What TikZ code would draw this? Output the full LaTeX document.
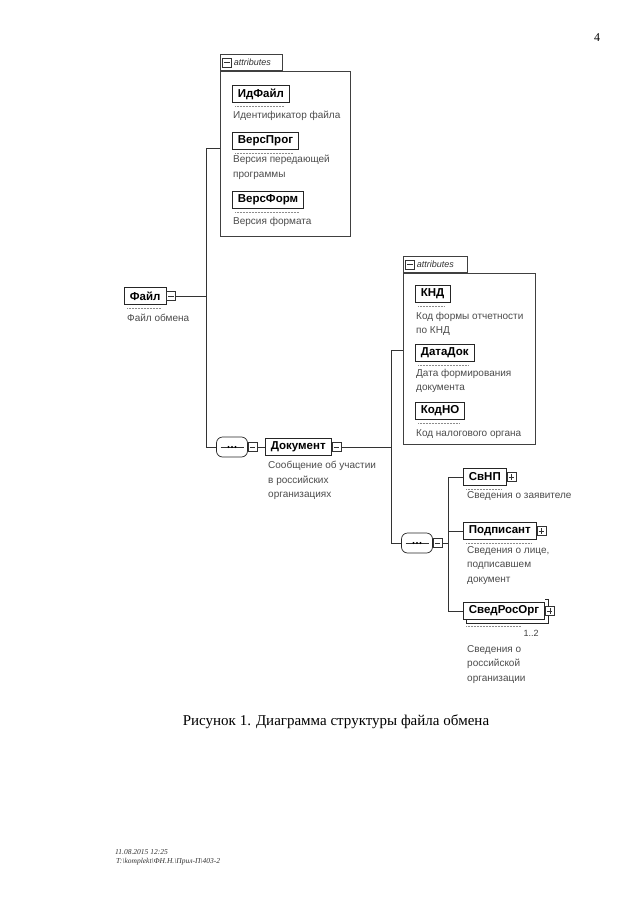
\documentclass[tikz,border=0pt]{standalone}
\usepackage{fontspec}
\setmainfont{Liberation Serif}
\setsansfont{Liberation Sans}
\usetikzlibrary{positioning}

\begin{document}
\begin{tikzpicture}[
    x=1pt, y=-1pt,
    every node/.style={font=\sffamily},
    link/.style={draw=black!80, line width=0.6pt},
    elem/.style={draw=black!85, fill=white, line width=0.7pt, anchor=west,
                 minimum height=17, inner xsep=5.5pt, inner ysep=0pt,
                 font=\sffamily\bfseries\fontsize{11.5}{12}\selectfont},
    desc/.style={anchor=north west, align=left, inner sep=0pt, text=black!70,
                 font=\sffamily\fontsize{10}{14.5}\selectfont},
    typeline/.style={draw=black!45, densely dotted, line width=0.5pt},
    attrbox/.style={draw=black!75, line width=0.6pt, anchor=north west, inner sep=0pt},
    attrtab/.style={draw=black!75, line width=0.6pt, anchor=south west, inner sep=0pt},
    tabtext/.style={inner sep=0pt, text=black!80,
                    font=\sffamily\itshape\fontsize{9}{10}\selectfont},
    minusbox/.style={draw=black!80, fill=white, line width=0.5pt, minimum size=9pt,
                     inner sep=0pt,
                     path picture={\draw[black!80,line width=0.5pt]
                       ([xshift=1.8pt]path picture bounding box.west) --
                       ([xshift=-1.8pt]path picture bounding box.east);}},
    plusbox/.style={minusbox,
                    path picture={\draw[black!80,line width=0.5pt]
                       ([xshift=1.8pt]path picture bounding box.west) --
                       ([xshift=-1.8pt]path picture bounding box.east)
                       ([yshift=-1.8pt]path picture bounding box.north) --
                       ([yshift=1.8pt]path picture bounding box.south);}},
    seqbox/.style={draw=black!85, fill=white, line width=0.7pt, rounded corners=6pt,
                   minimum width=31pt, minimum height=20pt, inner sep=0pt,
                   path picture={\draw[black!80,line width=0.6pt]
                       ([xshift=4pt]path picture bounding box.west) --
                       ([xshift=-4pt]path picture bounding box.east);
                     \foreach \d in {-3.5,0,3.5}
                       \fill[black] ([xshift=\d pt]path picture bounding box.center) circle (1.2pt);}},
    card/.style={inner sep=0pt, text=black!75, font=\sffamily\fontsize{9}{10}\selectfont},
    foot/.style={anchor=west, inner sep=0pt, text=black!80,
                 font=\rmfamily\itshape\fontsize{7.5}{9}\selectfont},
  ]
  \fill[white] (0,0) rectangle (640,905);
  \useasboundingbox (0,0) rectangle (640,905);

  \node[font=\rmfamily\fontsize{12}{14}\selectfont] (pg) at (597,38) {4};

  % --- root element
  \node[elem] (fl) at (124,296) {Файл};
  \node[minusbox, right=0pt of fl] (flm) {};
  \node[desc] (fld) at (127,314) {Файл обмена};

  % --- attributes of Файл
  \node[attrbox, minimum width=130, minimum height=165] (attr1) at (220,71) {};
  \node[attrtab, minimum width=62, minimum height=16] (tab1) at (attr1.north west) {};
  \node[minusbox] (tm1) at ([xshift=7]tab1.west) {};
  \node[tabtext, right=2pt of tm1] (tt1) {attributes};

  \node[elem] (idf) at (232,94) {ИдФайл};
  \node[desc] (idfd) at (233,111) {Идентификатор файла};
  \node[elem] (vprog) at (232,141) {ВерсПрог};
  \node[desc] (vprogd) at (233,155) {Версия передающей\\программы};
  \node[elem] (vform) at (232,200) {ВерсФорм};
  \node[desc] (vformd) at (233,217) {Версия формата};

  % --- first sequence and Документ
  \node[seqbox] (seq1) at (232,447) {};
  \node[minusbox, right=0pt of seq1] (s1m) {};
  \node[elem] (doc) at (265,447) {Документ};
  \node[minusbox, right=0pt of doc] (docm) {};
  \node[desc] (docd) at (268,461) {Сообщение об участии\\в российских\\организациях};

  % --- attributes of Документ
  \node[attrbox, minimum width=132, minimum height=171] (attr2) at (403,273) {};
  \node[attrtab, minimum width=64, minimum height=16] (tab2) at (attr2.north west) {};
  \node[minusbox] (tm2) at ([xshift=7]tab2.west) {};
  \node[tabtext, right=2pt of tm2] (tt2) {attributes};

  \node[elem] (knd) at (415,294) {КНД};
  \node[desc] (kndd) at (416,312) {Код формы отчетности\\по КНД};
  \node[elem] (datadok) at (415,353) {ДатаДок};
  \node[desc] (datadokd) at (416,369) {Дата формирования\\документа};
  \node[elem] (kodno) at (415,411) {КодНО};
  \node[desc] (kodnod) at (416,429) {Код налогового органа};

  % --- second sequence and its children
  \node[seqbox] (seq2) at (417,543) {};
  \node[minusbox, right=0pt of seq2] (s2m) {};

  \node[elem] (svnp) at (463,477) {СвНП};
  \node[plusbox, right=0pt of svnp] (svnpp) {};
  \node[desc] (svnpd) at (467,491) {Сведения о заявителе};
  \node[elem] (podp) at (463,531) {Подписант};
  \node[plusbox, right=0pt of podp] (podpp) {};
  \node[desc] (podpd) at (467,546) {Сведения о лице,\\подписавшем\\документ};
  \node[elem] (sro) at (463,611) {СведРосОрг};
  \draw[draw=black!85, line width=0.7pt] ([xshift=3]sro.south west)
    |- ([shift={(3,3)}]sro.south east) |- ([yshift=3]sro.north east);
  \node[plusbox, right=0pt of sro] (srop) {};
  \node[card] (sroc) at ([shift={(-14,13)}]sro.south east) {1..2};
  \node[desc] (srod) at (467,645) {Сведения о\\российской\\организации};

  \foreach \n in {idf,vprog,vform,knd,datadok,kodno,fl,svnp,podp}
    \draw[typeline] ([shift={(3,3)}]\n.south west) -- ([shift={(-6,3)}]\n.south east);
  \draw[typeline] ([shift={(3,6)}]sro.south west) -- ([shift={(-24,6)}]sro.south east);

  % --- junctions
  \coordinate (j1) at (206,296);
  \coordinate (a1in) at (220,148);
  \coordinate (j2) at (391,447);
  \coordinate (a2in) at (403,350);
  \coordinate (j3) at (448,543);

  % --- connectors
  \draw[link] (flm.east) -- (j1);
  \draw[link] (j1) |- (a1in);
  \draw[link] (j1) |- (seq1.west);
  \draw[link] (s1m.east) -- (doc.west);
  \draw[link] (docm.east) -- (j2);
  \draw[link] (j2) |- (a2in);
  \draw[link] (j2) |- (seq2.west);
  \draw[link] (s2m.east) -- (j3);
  \draw[link] (j3) |- (svnp.west);
  \draw[link] (j3) |- (podp.west);
  \draw[link] (j3) |- (sro.west);

  % --- caption and footer
  \node[font=\rmfamily\fontsize{15}{17}\selectfont] (cap) at (336,722)
    {Рисунок 1. Диаграмма структуры файла обмена};
  \node[foot] (ft1) at (115,852) {11.08.2015 12:25};
  \node[foot] (ft2) at (116,862)
    {T:\textbackslash komplekt\textbackslash ФН.Н.\textbackslash Прил-П\textbackslash 403-2};

\end{tikzpicture}
\end{document}
